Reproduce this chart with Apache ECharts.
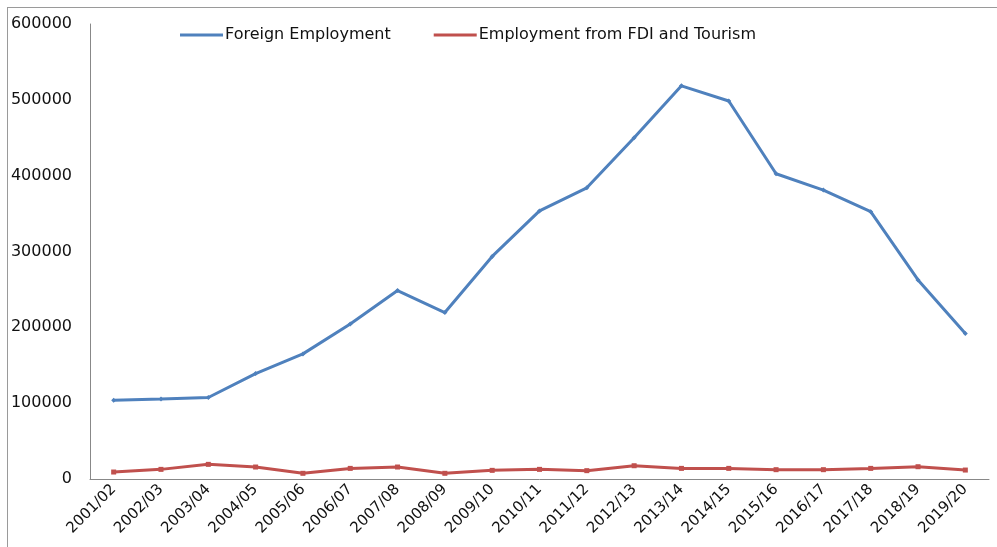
<!DOCTYPE html>
<html>
<head>
<meta charset="utf-8">
<script src="https://cdn.jsdelivr.net/npm/echarts@6/dist/echarts.min.js"></script>
<style>
html,body{margin:0;padding:0;background:#fff;}
#frame{position:absolute;left:7px;top:7px;width:990px;height:540px;border-left:1px solid #9a9a9a;border-top:1px solid #9a9a9a;}
#chart{position:absolute;left:0;top:0;width:997px;height:547px;}
</style>
</head>
<body>
<div id="frame"></div>
<div id="chart"></div>
<script>
const categories = ['2001/02','2002/03','2003/04','2004/05','2005/06','2006/07','2007/08','2008/09','2009/10','2010/11','2011/12','2012/13','2013/14','2014/15','2015/16','2016/17','2017/18','2018/19','2019/20'];
const foreignEmployment = [104000,105500,107500,139000,165000,204500,248500,219500,293500,353500,384000,450000,518500,498500,402500,381000,352500,262500,192000];
const fdiTourism = [9200,12700,19300,15800,7500,14000,15800,7500,11400,12700,11000,17500,14000,14000,12300,12300,14000,16200,11800];
const yTicks = [0,100000,200000,300000,400000,500000,600000];

const chart = echarts.init(document.getElementById('chart'));
const font = 'DejaVu Sans';
chart.setOption({
  animation:false,
  backgroundColor:'transparent',
  legend:{
    left:175, top:22,
    icon:'rect',
    itemWidth:43, itemHeight:3, itemGap:43,
    textStyle:{fontFamily:font,fontSize:16,color:'#111',padding:[0,0,0,-3]},
    data:['Foreign Employment','Employment from FDI and Tourism']
  },
  grid:{left:90,right:8,top:24,bottom:68},
  xAxis:{
    type:'category',
    data:categories,
    boundaryGap:true,
    axisLine:{show:true,lineStyle:{color:'#888',width:1}},
    axisTick:{show:false},
    axisLabel:{rotate:45,fontFamily:font,fontSize:15,color:'#111',margin:8,interval:0}
  },
  yAxis:{
    type:'value',
    min:yTicks[0], max:yTicks[yTicks.length-1], interval:100000,
    axisLine:{show:true,lineStyle:{color:'#888',width:1}},
    axisTick:{show:false},
    splitLine:{show:false},
    axisLabel:{fontFamily:font,fontSize:16,color:'#111',margin:18,formatter:function(v){return String(v);}}
  },
  series:[
    {name:'Foreign Employment',type:'line',data:foreignEmployment,
     color:'#4f81bd',symbol:'diamond',symbolSize:5,
     lineStyle:{width:3,color:'#4f81bd'},itemStyle:{color:'#4f81bd'}},
    {name:'Employment from FDI and Tourism',type:'line',data:fdiTourism,
     color:'#c0504d',symbol:'rect',symbolSize:5,
     lineStyle:{width:3,color:'#c0504d'},itemStyle:{color:'#c0504d'}}
  ]
});
</script>
</body>
</html>
